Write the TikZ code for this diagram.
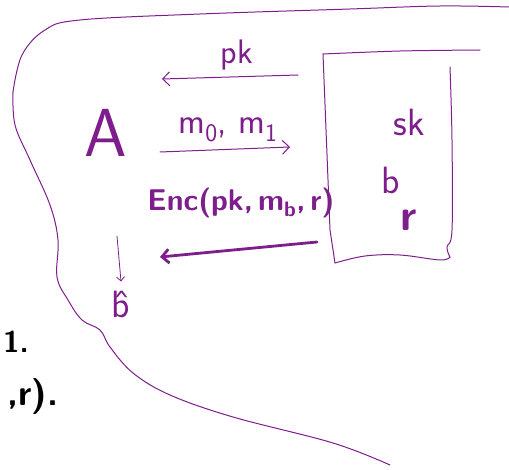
\documentclass[tikz,border=0pt]{standalone}
\usepackage{fontspec}
\usetikzlibrary{arrows.meta}

\definecolor{ink}{RGB}{126,30,140}

\tikzset{
  pen/.style={draw=ink, line width=1pt, line cap=round, line join=round},
  thickpen/.style={draw=ink, line width=2.8pt, line cap=round, line join=round},
  scrawl/.style={text=ink, inner sep=0pt, font=\sffamily},
}

\begin{document}
\begin{tikzpicture}[x=1pt,y=-1pt,>={Straight Barb[length=7pt,width=14pt]}]
  \useasboundingbox (0,0) rectangle (509,470);

  % the adversary's region
  \draw[pen] plot[smooth, tension=0.6] coordinates {
    (13,92) (22,55) (45,30) (80,20) (200,14) (350,9) (440,6) (509,7)};
  \draw[pen] plot[smooth, tension=0.6] coordinates {
    (13,92) (15,125) (30,160) (50,205) (58,240) (57,277) (68,300)
    (82,320) (100,330) (110,347) (133,373) (170,395) (233,417)
    (333,443) (390,465)};

  % the challenger
  \draw[pen] plot[smooth, tension=0.5] coordinates {
    (323,54) (400,51) (480,50)};
  \draw[pen] (323,54) -- (330,230) -- (335,263);
  \draw[pen] plot[smooth, tension=0.6] coordinates {
    (335,263) (365,256) (400,255) (440,260) (450,257)};
  \draw[pen] plot[smooth, tension=0.6] coordinates {
    (450,67) (452,140) (452,230) (447,247) (450,257)};

  \node[scrawl, font=\sffamily\fontsize{68}{68}\selectfont] (adv) at (106,133) {A};

  \node[scrawl, font=\sffamily\fontsize{38}{38}\selectfont] (sk) at (409,122) {sk};
  \node[scrawl, font=\sffamily\fontsize{38}{38}\selectfont] (bit) at (391,180) {b};
  \node[scrawl, font=\sffamily\bfseries\fontsize{44}{44}\selectfont] (rand) at (409,220) {r};

  % messages
  \coordinate (pkS) at (298,75);
  \coordinate (pkE) at (162,79);
  \coordinate (msgS) at (160,152);
  \coordinate (msgE) at (290,147);
  \coordinate (ctS) at (317,242);
  \coordinate (ctE) at (160,257);

  \draw[pen,->] (pkS) -- (pkE);
  \node[scrawl, font=\sffamily\fontsize{34}{34}\selectfont] (pk) at (237,55) {pk};

  \draw[pen,->] (msgS) -- (msgE);
  \node[scrawl, font=\sffamily\fontsize{36}{36}\selectfont] (msg) at (228,130) {m\textsubscript{0}, m\textsubscript{1}};

  \node[scrawl, font=\sffamily\bfseries\fontsize{30}{30}\selectfont] (enc) at (241,203) {Enc(pk,\,m\textsubscript{b},\,r)};
  \draw[thickpen,->] (ctS) -- (ctE);

  % the guess
  \coordinate (gS) at (117,236);
  \node[scrawl, font=\sffamily\fontsize{38}{38}\selectfont] (guess) at (121,304) {\^{b}};
  \draw[pen,line width=0.8pt,->,>={Straight Barb[length=4pt,width=8pt]}] (gS) -- ([yshift=9pt]guess.north);

  % text from the page beside it
  \node[inner sep=0pt, font=\sffamily\bfseries\fontsize{30}{30}\selectfont] (lineA) at (16,342) {1.};
  \node[inner sep=0pt, font=\sffamily\bfseries\fontsize{36}{36}\selectfont] (lineB) at (33,397) {,r).};
\end{tikzpicture}
\end{document}
